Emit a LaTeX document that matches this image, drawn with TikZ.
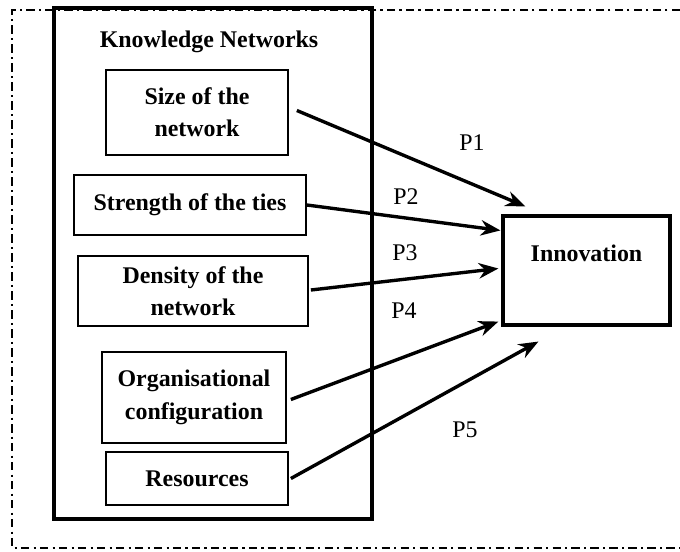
\documentclass[tikz,border=0pt]{standalone}
\usepackage{fontspec}
\setmainfont{Liberation Serif}
\usetikzlibrary{arrows.meta,positioning,calc}
\tikzset{
  factor/.style={rectangle, draw, line width=1.2pt, inner sep=0pt, align=center,
    font=\fontsize{17}{23}\selectfont\bfseries},
  link/.style={line width=2.4pt, -{Stealth[length=14pt,width=11pt]}},
  plabel/.style={font=\fontsize{17}{20}\selectfont}
}

\begin{document}
\begin{tikzpicture}[x=0.025cm, y=-0.025cm]
\useasboundingbox (0,0) rectangle (680,552);
\draw[line width=1.5pt, dash pattern=on 6pt off 3pt on 1.5pt off 3pt]
  (680,10) -- (12,10) -- (12,548) -- (680,548);
\node[draw, line width=2.6pt, minimum width=7.95cm, minimum height=12.775cm] (kn) at (213,263.5) {};
\node[font=\fontsize{17}{20}\selectfont\bfseries] (kntitle) at (209,42) {Knowledge Networks};
\node[factor, minimum width=4.55cm, minimum height=2.125cm] (size) at (197,112.5) {Size of the\\network};
\node[factor, minimum width=5.8cm, minimum height=1.5cm] (strength) at (190,205) {Strength of the ties};
\node[factor, minimum width=5.75cm, minimum height=1.75cm] (density) at (193,291) {Density of the\\network};
\node[factor, minimum width=4.6cm, minimum height=2.275cm] (organ) at (194,397.5) {Organisational\\configuration};
\node[factor, minimum width=4.55cm, minimum height=1.325cm] (resources) at (197,478.5) {Resources};
\node[draw, line width=2.2pt, minimum width=4.175cm, minimum height=2.725cm] (innov) at (586.5,270.5) {};
\node[font=\fontsize{17}{20}\selectfont\bfseries] (innovtext) at ($(innov.north)+(0,39)$) {Innovation};
\draw[link] ($(size.east)+(8,-2)$) -- ($(innov.north west)+(24,-8)$);
\draw[link] (strength.east) -- ($(innov.north west)+(-1,16)$);
\draw[link] ($(density.east)+(2,-1)$) -- ($(innov.west)+(-3,-2)$);
\draw[link] ($(organ.east)+(4,2)$) -- ($(innov.south west)+(-3,-5)$);
\draw[link] ($(resources.east)+(2,0)$) -- ($(innov.south west)+(37,15)$);
\node[plabel] (p1) at (472,143) {P1};
\node[plabel] (p2) at (406,197) {P2};
\node[plabel] (p3) at (405,253) {P3};
\node[plabel] (p4) at (404,311) {P4};
\node[plabel] (p5) at (465,430) {P5};
\end{tikzpicture}
\end{document}
